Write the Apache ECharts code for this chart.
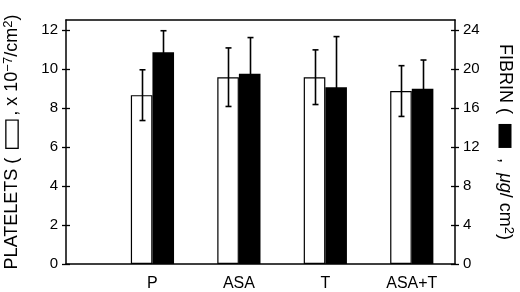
<!DOCTYPE html>
<html><head><meta charset="utf-8">
<script src="https://cdn.jsdelivr.net/npm/echarts@6/dist/echarts.min.js"></script>
<style>html,body{margin:0;padding:0;background:#fff}#c{width:520px;height:292px}</style>
</head><body><div id="c"></div>
<script>
const categories = ['P', 'ASA', 'T', 'ASA+T'];
const categoryPos = [1, 2, 3, 4];
const plateletMean = [8.65, 9.57, 9.57, 8.86];
const plateletErr = [1.3, 1.5, 1.4, 1.3];
const fibrinMean = [21.7, 19.5, 18.1, 17.95];
const fibrinErr = [2.2, 3.7, 5.2, 2.95];
const leftTicks = [0, 2, 4, 6, 8, 10, 12];
const rightTicks = [0, 4, 8, 12, 16, 20, 24];

const FONT = 'Liberation Sans';
const BAR_W = 21.6;
const chart = echarts.init(document.getElementById('c'), null, {renderer: 'canvas'});

function errRender(side) {
  return function (params, api) {
    const x = api.value(0), m = api.value(1), e = api.value(2);
    const base = api.coord([x, m]);
    const hi = api.coord([x, m + e]);
    const lo = api.coord([x, m - e]);
    const cx = Math.round(base[0] + side * BAR_W / 2) + 0.5;
    const cap = 3;
    const st = {stroke: '#000', lineWidth: 1.6};
    return {type: 'group', children: [
      {type: 'line', shape: {x1: cx, y1: hi[1], x2: cx, y2: lo[1]}, style: st},
      {type: 'line', shape: {x1: cx - cap, y1: hi[1], x2: cx + cap, y2: hi[1]}, style: st},
      {type: 'line', shape: {x1: cx - cap, y1: lo[1], x2: cx + cap, y2: lo[1]}, style: st}
    ]};
  };
}

const axisLineStyle = {show: true, onZero: false, lineStyle: {color: '#000', width: 1.5}};
const nameStyle = {
  fontFamily: FONT, fontSize: 18, color: '#000',
  rich: {
    t: {fontFamily: FONT, fontSize: 18, color: '#000'},
    i: {fontFamily: FONT, fontSize: 18, color: '#000', fontStyle: 'italic'},
    sup: {fontFamily: FONT, fontSize: 13, color: '#000', verticalAlign: 'top', padding: [0, 0, 7, 0]},
    wbox: {width: 27, height: 11, borderColor: '#000', borderWidth: 1.3, backgroundColor: '#fff'},
    bbox: {width: 24, height: 13, backgroundColor: '#000'}
  }
};

function yAx(pos, max, interval, ticks, main) {
  return {
    type: 'value', position: pos, min: 0, max: max, interval: interval,
    axisLine: main ? axisLineStyle : {show: false, onZero: false},
    axisTick: {show: true, inside: !main, length: 4, customValues: ticks, lineStyle: {color: '#000', width: 1.3}},
    axisLabel: {show: main, customValues: ticks, margin: 8, fontFamily: FONT, fontSize: 15, color: '#000'},
    splitLine: {show: false}
  };
}

const yAxes = [
  Object.assign(yAx('left', 12.5, 2, leftTicks, true), {
    name: '{t|PLATELETS (  }{wbox|}{t| , x 10}{sup|−7}{t|/cm}{sup|2}{t|)}',
    nameLocation: 'middle', nameGap: 44, nameTextStyle: nameStyle
  }),
  Object.assign(yAx('right', 25, 4, rightTicks, true), {
    name: '{t|FIBRIN (  }{bbox|}{t|  ,  }{i|μg}{t|/ cm}{sup|2}{t|)}',
    nameLocation: 'middle', nameGap: 40, nameRotate: -90, nameTextStyle: nameStyle
  }),
  yAx('left', 12.5, 2, leftTicks, false),
  yAx('right', 25, 4, rightTicks, false)
];

const option = {
  animation: false,
  backgroundColor: '#fff',
  grid: {left: 66, right: 65, top: 20, bottom: 28, containLabel: false, outerBoundsMode: 'none'},
  xAxis: [
    {type: 'value', position: 'bottom', min: 0, max: 4.5, interval: 1,
     axisLine: axisLineStyle, axisTick: {show: false}, splitLine: {show: false},
     axisLabel: {customValues: categoryPos, formatter: v => categories[categoryPos.indexOf(v)] || '',
                 margin: 12, fontFamily: FONT, fontSize: 16, color: '#000'}},
    {type: 'value', position: 'top', min: 0, max: 4.5,
     axisLine: axisLineStyle, axisTick: {show: false}, axisLabel: {show: false}, splitLine: {show: false}}
  ],
  yAxis: yAxes,
  series: [
    {type: 'bar', name: 'Platelets', xAxisIndex: 0, yAxisIndex: 0, barWidth: BAR_W, barGap: '0%',
     data: categoryPos.map((x, i) => [x, plateletMean[i]]),
     itemStyle: {color: '#fff', borderColor: '#000', borderWidth: 1.2}},
    {type: 'bar', name: 'Fibrin', xAxisIndex: 0, yAxisIndex: 1, barWidth: BAR_W, barGap: '0%',
     data: categoryPos.map((x, i) => [x, fibrinMean[i]]),
     itemStyle: {color: '#000', borderColor: '#000', borderWidth: 0}},
    {type: 'custom', xAxisIndex: 0, yAxisIndex: 0, z: 5, renderItem: errRender(-1),
     data: categoryPos.map((x, i) => [x, plateletMean[i], plateletErr[i]])},
    {type: 'custom', xAxisIndex: 0, yAxisIndex: 1, z: 5, renderItem: errRender(1),
     data: categoryPos.map((x, i) => [x, fibrinMean[i], fibrinErr[i]])}
  ]
};
chart.setOption(option);
</script>
</body></html>
